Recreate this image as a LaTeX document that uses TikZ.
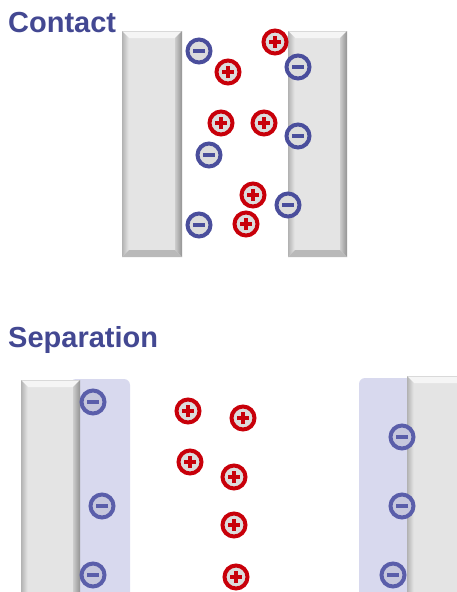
\documentclass[tikz,border=0pt]{standalone}
\usepackage{fontspec}
\setmainfont{Liberation Sans}
\usepackage{tikz}
\usetikzlibrary{positioning}
\definecolor{titleblue}{HTML}{434892}
\definecolor{negblue}{HTML}{4A4E9C}
\definecolor{negpale}{HTML}{5A5EAA}
\definecolor{posred}{HTML}{C8000A}
\definecolor{chargegray}{HTML}{DCDCDC}
\definecolor{bandblue}{HTML}{D8D9EE}
\definecolor{slabgray}{HTML}{E4E4E4}
\definecolor{sepfill}{HTML}{C6C7DD}

% bevelled slab: x1,y1 (top left) and x2,y2 (bottom right), y counted downwards
\newcommand{\slab}[4]{%
  \fill[slabgray] (#1,#2) rectangle (#3,#4);
  \fill[gray!8] (#1,#2) -- (#3,#2) -- (#3-7,#2+7) -- (#1+7,#2+7) -- cycle;
  \draw[gray!30,line width=0.8pt] (#1,#2+0.4) -- (#3,#2+0.4);
  \shade[left color=gray!60,right color=gray!18] (#1,#2) -- (#1+7,#2+7) -- (#1+7,#4-7) -- (#1,#4) -- cycle;
  \shade[left color=gray!40,right color=gray!85] (#3,#2) -- (#3-7,#2+7) -- (#3-7,#4-7) -- (#3,#4) -- cycle;
  \fill[gray!55] (#1,#4) -- (#1+7,#4-7) -- (#3-7,#4-7) -- (#3,#4) -- cycle;
}

\tikzset{
  title/.style={font=\bfseries\fontsize{29}{32}\selectfont, text=titleblue, anchor=base west, inner sep=0pt},
  charge/.style={circle, line width=4pt, fill=chargegray, minimum size=23pt, inner sep=0pt},
  negcharge/.style={charge, draw=negblue,
    path picture={\draw[negblue, line width=4pt] ([xshift=-6pt]path picture bounding box.center) -- ([xshift=6pt]path picture bounding box.center);}},
  negsep/.style={charge, draw=negpale, fill=sepfill,
    path picture={\draw[negpale, line width=4pt] ([xshift=-6pt]path picture bounding box.center) -- ([xshift=6pt]path picture bounding box.center);}},
  poscharge/.style={charge, draw=posred,
    path picture={\draw[posred, line width=3.8pt] ([xshift=-6pt]path picture bounding box.center) -- ([xshift=6pt]path picture bounding box.center)
      ([yshift=-6pt]path picture bounding box.center) -- ([yshift=6pt]path picture bounding box.center);}},
}

\begin{document}
\begin{tikzpicture}[x=1pt,y=-1pt]
\clip (0,0) rectangle (457,592);

% contact
\node[title] (contact) at (8,32) {Contact};
\slab{122}{31}{182}{257}
\slab{288}{31}{347}{257}

\node[negcharge] (n1) at (199,51) {};
\node[negcharge] (n2) at (298,67) {};
\node[negcharge] (n3) at (298,136) {};
\node[negcharge] (n4) at (209,155) {};
\node[negcharge] (n5) at (288,205) {};
\node[negcharge] (n6) at (199,225) {};
\node[poscharge] (p1) at (275,42) {};
\node[poscharge] (p2) at (228,72) {};
\node[poscharge] (p3) at (221,123) {};
\node[poscharge] (p4) at (264,123) {};
\node[poscharge] (p5) at (253,195) {};
\node[poscharge] (p6) at (246,224) {};

% separation
\node[title] (separation) at (8,347) {Separation};
\fill[bandblue,rounded corners=6pt] (70,379) rectangle (130,620);
\fill[bandblue,rounded corners=6pt] (359,378) rectangle (420,620);
\slab{21}{380}{80}{640}
\slab{407}{376}{480}{640}

\node[negsep] (sn1) at (93,402) {};
\node[negsep] (sn2) at (102,506) {};
\node[negsep] (sn3) at (93,575) {};
\node[negsep] (sn4) at (402,437) {};
\node[negsep] (sn5) at (402,506) {};
\node[negsep] (sn6) at (393,575) {};
\node[poscharge] (sp1) at (188,411) {};
\node[poscharge] (sp2) at (243,418) {};
\node[poscharge] (sp3) at (190,462) {};
\node[poscharge] (sp4) at (234,477) {};
\node[poscharge] (sp5) at (234,525) {};
\node[poscharge] (sp6) at (236,577) {};
\end{tikzpicture}
\end{document}
